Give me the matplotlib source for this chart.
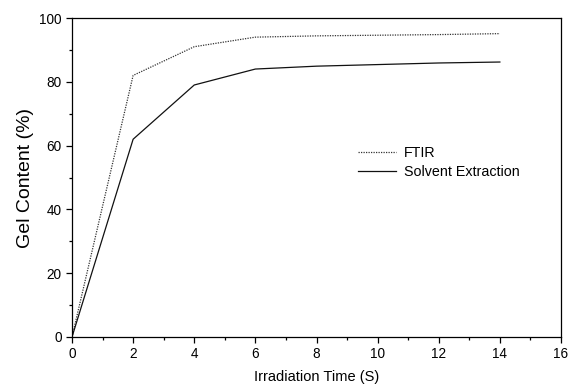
import matplotlib
matplotlib.use("Agg")
import matplotlib.pyplot as plt
from matplotlib.ticker import MultipleLocator

plt.rcParams['font.family'] = ['Liberation Sans', 'DejaVu Sans']

time_s = [0, 2, 4, 6, 8, 10, 12, 14]
ftir = [0, 82, 91, 94, 94.4, 94.6, 94.8, 95.1]
solvent = [0, 62, 79, 84, 84.9, 85.4, 85.9, 86.2]

fig = plt.figure(figsize=(5.69, 3.84), dpi=100)
ax = fig.add_axes([72/569, 1-337/384, (561-72)/569, (337-18)/384])

ax.plot(time_s, ftir, color='#333333', lw=0.9, linestyle=(0, (1, 1)), label='FTIR')
ax.plot(time_s, solvent, color='#111111', lw=0.9, label='Solvent Extraction')

ax.set_xlim(0, 16)
ax.set_ylim(0, 100)
ax.xaxis.set_major_locator(MultipleLocator(2))
ax.xaxis.set_minor_locator(MultipleLocator(1))
ax.yaxis.set_major_locator(MultipleLocator(20))
ax.yaxis.set_minor_locator(MultipleLocator(10))
ax.tick_params(which='major', direction='out', length=4, width=0.9, labelsize=9.8, top=False, right=False)
ax.tick_params(which='minor', direction='out', length=2.5, width=0.9, top=False, right=False)
for s in ax.spines.values():
    s.set_linewidth(0.9)

ax.set_xlabel('Irradiation Time (S)', fontsize=10.5)
ax.set_ylabel('Gel Content (%)', fontsize=14)
ax.xaxis.set_label_coords(0.5, -0.104)
ax.yaxis.set_label_coords(-0.078, 0.5)

ax.legend(loc='upper left', bbox_to_anchor=(0.574, 0.618), frameon=False, fontsize=10.3,
          handlelength=2.6, handletextpad=0.6, labelspacing=0.4, borderaxespad=0)

fig.savefig('out.png', dpi=100)
